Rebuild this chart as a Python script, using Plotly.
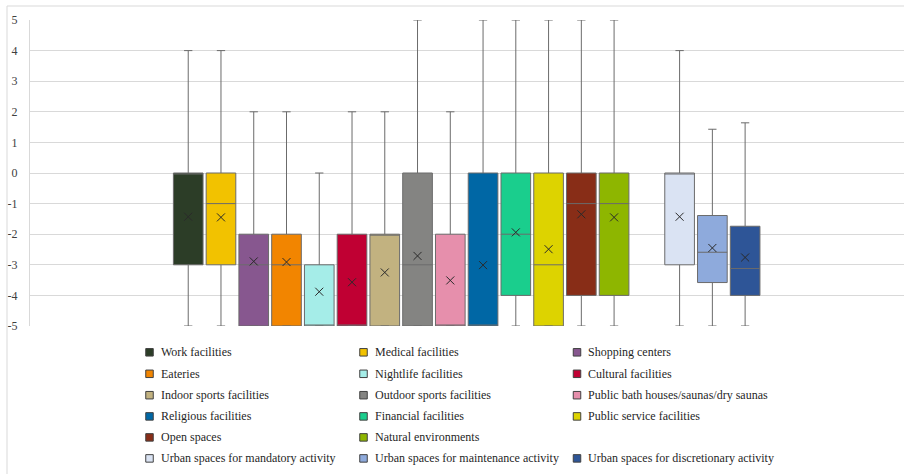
import plotly.graph_objects as go

# Score distributions per destination type (precomputed box statistics)
names = [
    "Work facilities", "Medical facilities", "Shopping centers",
    "Eateries", "Nightlife facilities", "Cultural facilities",
    "Indoor sports facilities", "Outdoor sports facilities", "Public bath houses/saunas/dry saunas",
    "Religious facilities", "Financial facilities", "Public service facilities",
    "Open spaces", "Natural environments",
    "Urban spaces for mandatory activity", "Urban spaces for maintenance activity",
    "Urban spaces for discretionary activity",
]
colors = [
    "#2c3d27", "#f2c200", "#87578f",
    "#f28500", "#a5ede8", "#c00033",
    "#c2b280", "#848482", "#e68fac",
    "#0067a5", "#1ace8d", "#ddd300",
    "#882d17", "#8eb600",
    "#dae3f3", "#8eaadc", "#2e5597",
]
q1 = [-3, -3, -5, -5, -5, -5, -5, -5, -5, -5, -4, -5, -4, -4, -3, -3.58, -4]
median = [0, -1, -3, -3, -5, -5, -2, -3, -5, -5, -2, -3, -1, -1, 0, -2.59, -3.12]
q3 = [0, 0, -2, -2, -3, -2, -2, 0, -2, 0, 0, 0, 0, 0, 0, -1.39, -1.74]
lower = [-5, -5, -5, -5, -5, -5, -5, -5, -5, -5, -5, -5, -5, -5, -5, -5, -5]
upper = [4, 4, 2, 2, 0, 2, 2, 5, 2, 5, 5, 5, 5, 5, 4, 1.43, 1.64]
mean = [-1.43, -1.45, -2.89, -2.91, -3.88, -3.57, -3.25, -2.71, -3.51,
        -3.01, -1.94, -2.49, -1.35, -1.45, -1.43, -2.45, -2.76]
# facilities come first, the urban-space group follows after one empty slot
n_facility = 14

y_ticks = [5, 4, 3, 2, 1, 0, -1, -2, -3, -4, -5]

# figure geometry (pixels)
W, H = 904, 474
L, R, T, B = 30, 904, 20, 326

def px_x(px):
    return (px - L) / (R - L)

def px_y(py):
    return (B - py) / (B - T)

slots = [i if i < n_facility else i + 1 for i in range(len(names))]

OUTLINE = "#6b6b6b"
FONT = "Liberation Serif"

fig = go.Figure()
for i, name in enumerate(names):
    fig.add_trace(go.Box(
        x=[slots[i]], q1=[q1[i]], median=[median[i]], q3=[q3[i]],
        lowerfence=[lower[i]], upperfence=[upper[i]],
        name=name, width=0.905, whiskerwidth=0.28,
        fillcolor=colors[i], line=dict(color=OUTLINE, width=1),
        boxpoints=False, showlegend=False, hoverinfo="skip",
    ))

fig.add_trace(go.Scatter(
    x=slots, y=mean, mode="markers", showlegend=False, hoverinfo="skip",
    marker=dict(symbol="x-thin", size=8, line=dict(color="#2a2a2a", width=1)),
))

shapes = []
annotations = []

# legend: three columns, blank cell after "Natural environments"
col_sq = [149.5, 363.5, 577.0]
row_y = [352.3, 373.8, 395.2, 416.4, 437.4, 458.4]
sq = 7.5
for i, name in enumerate(names):
    cell = slots[i]
    r, c = divmod(cell, 3)
    cx, cy = col_sq[c], row_y[r]
    shapes.append(dict(
        type="rect", xref="paper", yref="paper",
        x0=px_x(cx - sq / 2), x1=px_x(cx + sq / 2),
        y0=px_y(cy + sq / 2), y1=px_y(cy - sq / 2),
        fillcolor=colors[i], line=dict(color="#404040", width=1),
    ))
    annotations.append(dict(
        text=name, xref="paper", yref="paper",
        x=px_x(cx + 9), y=px_y(cy), xanchor="left", yanchor="middle",
        showarrow=False, font=dict(family=FONT, size=12, color="#1f1f1f"),
    ))

# chart frame (top and left edges)
frame = "#d9d9d9"
shapes.append(dict(type="line", xref="paper", yref="paper",
                   x0=px_x(7), x1=px_x(904), y0=px_y(6), y1=px_y(6),
                   line=dict(color=frame, width=1)))
shapes.append(dict(type="line", xref="paper", yref="paper",
                   x0=px_x(7), x1=px_x(7), y0=px_y(6), y1=px_y(474),
                   line=dict(color=frame, width=1)))

fig.update_layout(
    width=W, height=H,
    margin=dict(l=L, r=W - R, t=T, b=H - B, pad=0),
    paper_bgcolor="white", plot_bgcolor="white",
    boxmode="overlay",
    shapes=shapes, annotations=annotations,
    font=dict(family=FONT, size=12, color="#404040"),
    xaxis=dict(range=[-4.83, 21.85], showticklabels=False, showgrid=False,
               zeroline=False, showline=False, ticks=""),
    yaxis=dict(range=[-5, 5], tickvals=y_ticks, ticktext=[str(v) for v in y_ticks],
               showgrid=True, gridcolor="#d9d9d9", gridwidth=1,
               zeroline=False, showline=True, linecolor="#d9d9d9", linewidth=1,
               ticks="", ticklabelstandoff=9,
               tickfont=dict(family=FONT, size=12, color="#404040")),
)

fig.write_html("out.html")
